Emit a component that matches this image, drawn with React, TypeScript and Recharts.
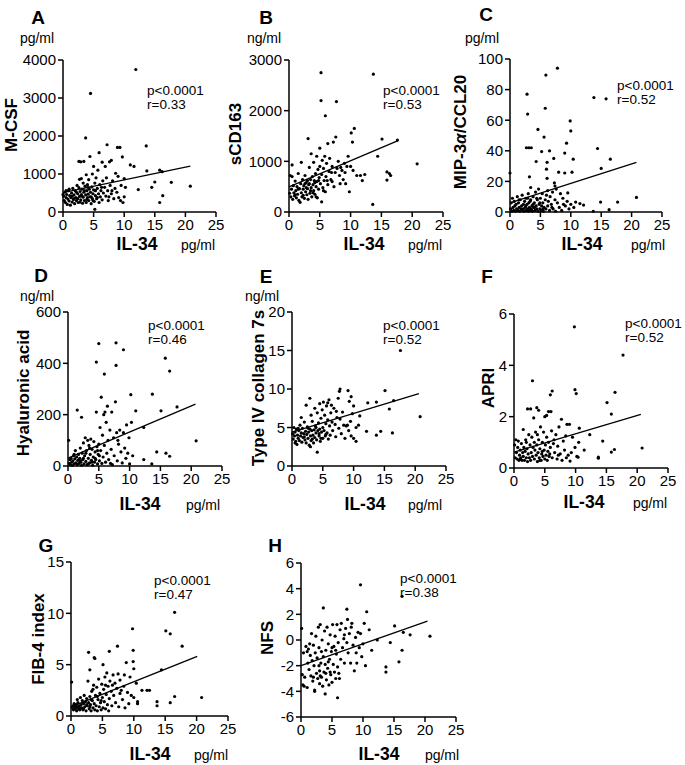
import React from "react";
import { ScatterChart, Scatter, XAxis, YAxis } from "recharts";

type Pt = [number, number];

const xTicks = [0, 5, 10, 15, 20, 25];

// A: M-CSF (pg/ml) vs IL-34
const mcsf: Pt[] = [
  [0.0,460],[0.1,420],[0.2,300],[0.3,520],[0.4,250],[0.5,380],[0.5,560],[0.6,460],[0.7,200],[0.8,340],[0.9,560],[1.0,290],[1.0,600],[1.1,430],[1.2,180],[1.3,380],[1.4,500],[1.5,260],[1.5,420],[1.6,620],[1.7,330],[1.8,450],[1.8,350],[1.9,220],[2.0,560],[2.1,380],[2.2,300],[2.2,520],[2.3,700],[2.4,480],[2.4,350],[2.5,250],[2.6,1330],[2.6,640],[2.7,410],[2.7,860],[2.8,540],[2.8,260],[2.9,1320],[2.9,320],[3.0,880],[3.0,460],[3.1,600],[3.1,420],[3.2,230],[3.3,760],[3.3,390],[3.4,1330],[3.4,520],[3.5,300],[3.5,560],[3.6,680],[3.7,1950],[3.7,450],[3.8,980],[3.8,250],[3.9,560],[3.9,330],[4.0,380],[4.0,720],[4.1,470],[4.1,650],[4.2,850],[4.2,300],[4.3,600],[4.4,1460],[4.4,400],[4.5,3120],[4.5,520],[4.6,220],[4.6,400],[4.7,660],[4.8,1000],[4.8,350],[4.9,480],[4.9,300],[5.0,1200],[5.0,580],[5.1,280],[5.2,70],[5.2,760],[5.3,430],[5.3,560],[5.4,900],[5.5,350],[5.6,620],[5.6,380],[5.7,1100],[5.8,480],[5.9,1560],[5.9,250],[6.0,720],[6.1,400],[6.2,560],[6.3,650],[6.4,1310],[6.4,320],[6.5,820],[6.6,500],[6.8,650],[6.9,1200],[7.0,420],[7.1,900],[7.2,1770],[7.3,560],[7.4,300],[7.5,400],[7.6,1320],[7.7,700],[7.9,1360],[7.9,480],[8.0,560],[8.1,820],[8.3,350],[8.5,620],[8.6,1020],[8.8,520],[8.9,1700],[9.0,940],[9.1,380],[9.3,1700],[9.4,300],[9.5,700],[9.7,1450],[9.8,250],[10.0,880],[10.0,400],[10.2,650],[11.0,1240],[11.6,1200],[11.9,3750],[12.3,590],[13.6,1740],[13.7,1080],[14.5,650],[15.0,790],[15.8,1100],[15.8,250],[16.2,1060],[16.3,430],[17.7,780],[20.8,680],
];
const mcsfFit: Pt[] = [[0, 510], [20.8, 1210]];

// B: sCD163 (ng/ml)
const scd163: Pt[] = [
  [0.1,370],[0.2,720],[0.3,300],[0.4,450],[0.5,930],[0.5,700],[0.6,250],[0.7,520],[0.8,380],[0.9,320],[1.0,610],[1.0,340],[1.1,420],[1.2,280],[1.3,500],[1.4,350],[1.5,760],[1.5,450],[1.6,230],[1.7,460],[1.8,190],[1.9,560],[2.0,980],[2.0,380],[2.1,300],[2.2,640],[2.3,450],[2.3,330],[2.4,520],[2.5,270],[2.6,720],[2.6,560],[2.7,400],[2.8,580],[2.8,480],[2.9,340],[3.0,620],[3.0,460],[3.1,1450],[3.1,250],[3.2,540],[3.3,880],[3.3,560],[3.4,370],[3.5,640],[3.5,420],[3.6,1150],[3.6,480],[3.7,300],[3.8,700],[3.9,540],[3.9,380],[4.0,420],[4.0,980],[4.1,620],[4.2,350],[4.2,580],[4.3,760],[4.4,500],[4.4,300],[4.5,1100],[4.5,600],[4.6,280],[4.7,840],[4.8,450],[4.8,620],[4.9,680],[5.0,1260],[5.0,900],[5.1,560],[5.2,2750],[5.2,2200],[5.3,200],[5.3,740],[5.4,1020],[5.5,480],[5.6,860],[5.6,420],[5.7,620],[5.8,1100],[5.9,1900],[5.9,400],[6.0,700],[6.1,960],[6.2,620],[6.3,1350],[6.3,540],[6.5,800],[6.6,1060],[6.8,640],[6.9,780],[7.0,900],[7.0,600],[7.2,1380],[7.3,500],[7.5,780],[7.6,1480],[7.7,2180],[7.8,860],[8.0,1000],[8.2,720],[8.3,560],[8.4,880],[8.6,820],[8.8,640],[9.0,960],[9.1,780],[9.2,560],[9.4,900],[9.6,1100],[9.8,400],[10.0,900],[10.1,1560],[10.3,1380],[10.4,820],[10.6,1650],[11.0,720],[11.6,720],[11.9,620],[12.3,740],[13.6,150],[13.7,2720],[14.4,1100],[15.1,1440],[15.9,790],[15.9,630],[16.3,760],[16.5,720],[17.6,1420],[20.8,950],
];
const scd163Fit: Pt[] = [[0, 494], [17.7, 1410]];

// C: MIP-3a/CCL20 (pg/ml)
const ccl20: Pt[] = [
  [0.0,25.5],[0.1,2],[0.2,6],[0.3,0.5],[0.4,9],[0.5,3],[0.6,1],[0.7,7],[0.8,4],[0.9,0.5],[1.0,5],[1.1,2],[1.2,10],[1.3,1],[1.4,6],[1.5,3],[1.5,8],[1.6,0.5],[1.7,8],[1.8,2],[1.9,4],[2.0,11],[2.1,1],[2.2,5],[2.2,2],[2.3,0.5],[2.4,7],[2.5,3],[2.6,9],[2.6,4],[2.7,42],[2.7,1],[2.8,77],[2.8,5],[2.9,64],[2.9,2],[2.9,9],[3.0,12],[3.0,0.5],[3.1,42],[3.1,6],[3.2,23],[3.2,3],[3.3,1],[3.3,7],[3.4,16],[3.4,8],[3.5,42],[3.5,2],[3.6,4],[3.6,1],[3.7,0.5],[3.8,10],[3.8,5],[3.9,3],[4.0,6],[4.0,3],[4.1,1],[4.2,13],[4.3,33],[4.3,4],[4.4,2],[4.4,9],[4.5,8],[4.6,54],[4.6,0.5],[4.7,15],[4.8,5],[4.9,2],[4.9,6],[5.0,9],[5.1,1],[5.2,39.5],[5.2,4],[5.3,12],[5.4,6],[5.4,2],[5.5,0.5],[5.6,49],[5.6,3],[5.8,67.8],[5.8,8],[5.9,89.5],[5.9,2],[6.0,28],[6.0,11],[6.1,22],[6.1,32.5],[6.2,4],[6.2,14],[6.3,7],[6.5,40],[6.5,1],[6.6,10],[6.8,5],[6.9,3],[7.0,13],[7.1,2],[7.2,35],[7.3,19],[7.4,8],[7.4,17],[7.5,0.5],[7.6,15],[7.8,94],[7.8,6],[8.0,26],[8.1,3],[8.3,12],[8.5,1],[8.7,9],[8.8,5],[9.0,38.5],[9.0,25.5],[9.1,4],[9.3,45],[9.4,7],[9.5,12.5],[9.7,2],[9.9,59.5],[10.0,53],[10.0,5],[10.2,26],[10.4,34.5],[10.5,3],[10.8,6.5],[11.5,5.5],[12.1,4.5],[13.7,0.5],[13.8,74.8],[14.4,41.5],[14.9,6.5],[15.0,28.5],[15.8,74],[16.3,1.5],[16.5,34.5],[17.7,6.5],[20.8,9.5],
];
const ccl20Fit: Pt[] = [[0, 5.9], [20.8, 32.4]];

// D: Hyaluronic acid (ng/ml)
const hyaluronic: Pt[] = [
  [0.1,100],[0.2,10],[0.3,25],[0.4,5],[0.5,30],[0.6,15],[0.7,2],[0.8,20],[0.9,40],[1.0,8],[1.0,45],[1.1,28],[1.2,60],[1.3,12],[1.4,35],[1.5,218],[1.5,5],[1.6,22],[1.7,45],[1.8,10],[1.9,30],[2.0,70],[2.0,20],[2.1,15],[2.2,190],[2.2,3],[2.3,50],[2.4,25],[2.5,90],[2.5,30],[2.6,8],[2.7,40],[2.8,110],[2.9,18],[2.9,50],[3.0,60],[3.1,5],[3.2,100],[3.3,30],[3.3,8],[3.4,80],[3.5,12],[3.5,70],[3.6,45],[3.7,105],[3.8,22],[3.9,65],[3.9,15],[4.0,3],[4.1,35],[4.2,95],[4.3,15],[4.4,55],[4.4,30],[4.5,25],[4.6,405],[4.6,210],[4.7,75],[4.8,8],[4.8,60],[4.9,45],[5.0,477],[5.0,85],[5.1,20],[5.1,40],[5.2,150],[5.3,60],[5.4,268],[5.5,10],[5.6,120],[5.7,35],[5.8,200],[5.9,358],[5.9,80],[6.0,210],[6.1,15],[6.2,170],[6.3,50],[6.4,233],[6.5,100],[6.6,25],[6.8,140],[6.9,10],[7.0,65],[7.1,210],[7.2,5],[7.4,110],[7.5,40],[7.7,250],[7.8,480],[7.8,392],[7.9,130],[8.0,20],[8.1,100],[8.2,85],[8.4,140],[8.6,55],[8.8,12],[9.0,453],[9.0,130],[9.2,70],[9.4,30],[9.5,160],[9.7,50],[9.9,110],[10.0,8],[10.2,278],[10.3,170],[10.5,40],[11.0,215],[12.3,150],[12.3,25],[13.6,8],[13.7,280],[14.4,55],[15.1,215],[15.8,420],[15.9,50],[16.5,370],[16.5,38],[17.7,230],[20.8,98],
];
const hyaluronicFit: Pt[] = [[0, 31], [20.7, 241]];

// E: Type IV collagen 7s (ng/ml)
const collagen: Pt[] = [
  [0.1,4.2],[0.2,3.5],[0.3,5.0],[0.4,3.9],[0.5,4.4],[0.5,3.0],[0.6,3.2],[0.7,4.8],[0.8,2.8],[0.9,4.0],[1.0,3.6],[1.0,4.9],[1.1,4.6],[1.2,3.3],[1.3,5.3],[1.4,3.9],[1.5,6.3],[1.5,4.3],[1.6,3.1],[1.7,4.9],[1.8,3.7],[1.9,4.2],[2.0,5.7],[2.0,3.8],[2.1,3.4],[2.2,4.5],[2.3,7.9],[2.3,3.0],[2.4,4.1],[2.5,5.1],[2.6,3.6],[2.6,4.9],[2.7,4.4],[2.8,2.7],[2.9,8.8],[2.9,4.8],[3.0,3.9],[3.0,2.5],[3.1,6.6],[3.1,3.3],[3.2,4.6],[3.3,5.8],[3.3,3.5],[3.4,4.0],[3.5,3.0],[3.6,4.7],[3.7,7.5],[3.7,3.7],[3.8,5.2],[3.9,4.3],[3.9,5.0],[4.0,3.4],[4.1,1.8],[4.1,6.9],[4.2,4.6],[4.3,5.6],[4.4,3.9],[4.4,4.2],[4.5,8.1],[4.5,4.8],[4.6,3.2],[4.7,6.2],[4.7,3.6],[4.8,4.4],[4.9,7.3],[5.0,5.0],[5.0,3.6],[5.1,8.3],[5.2,4.6],[5.3,6.6],[5.4,3.9],[5.5,5.5],[5.5,4.1],[5.6,7.8],[5.7,4.3],[5.8,6.0],[5.8,8.2],[5.9,3.5],[6.0,8.6],[6.1,5.2],[6.2,4.0],[6.3,6.9],[6.4,7.9],[6.5,5.7],[6.6,4.6],[6.8,7.5],[7.0,5.4],[7.1,3.8],[7.2,7.1],[7.3,6.3],[7.5,8.8],[7.6,4.9],[7.7,9.7],[7.8,10.0],[7.8,6.1],[8.0,4.2],[8.2,7.0],[8.4,5.3],[8.6,3.6],[8.8,5.2],[9.0,5.3],[9.1,9.8],[9.2,4.6],[9.3,8.4],[9.5,5.8],[9.6,9.0],[9.6,3.9],[9.8,6.8],[10.0,3.6],[10.0,7.8],[10.4,3.2],[10.4,5.0],[10.8,5.3],[11.0,6.5],[12.1,4.5],[12.3,8.2],[13.7,8.3],[13.7,4.0],[14.4,4.5],[15.1,9.8],[15.8,7.4],[16.3,4.3],[16.5,8.5],[17.6,15],[20.8,6.4],
];
const collagenFit: Pt[] = [[0, 4.4], [20.6, 9.4]];

// F: APRI
const apri: Pt[] = [
  [0.1,0.9],[0.2,0.4],[0.3,1.1],[0.4,0.6],[0.5,0.35],[0.6,0.8],[0.7,1.05],[0.8,0.3],[0.9,0.5],[1.0,0.7],[1.0,0.35],[1.1,0.4],[1.2,0.95],[1.3,0.3],[1.4,0.6],[1.5,1.5],[1.5,0.45],[1.6,0.8],[1.7,0.3],[1.8,0.65],[1.9,1.1],[2.0,0.4],[2.0,1.0],[2.1,0.75],[2.2,2.3],[2.2,0.25],[2.3,0.55],[2.4,1.3],[2.5,0.4],[2.6,0.9],[2.7,2.3],[2.7,0.3],[2.8,0.6],[2.9,1.2],[3.0,3.4],[3.0,0.45],[3.1,0.8],[3.2,1.95],[3.3,0.35],[3.3,1.0],[3.4,0.7],[3.5,1.4],[3.6,0.5],[3.7,2.35],[3.7,0.9],[3.8,0.25],[3.8,1.3],[3.9,0.6],[4.0,2.25],[4.0,1.1],[4.1,0.4],[4.2,0.75],[4.2,0.3],[4.3,1.6],[4.4,0.3],[4.5,0.55],[4.6,1.0],[4.6,0.65],[4.7,0.45],[4.8,1.4],[4.9,0.7],[5.0,2.0],[5.0,0.35],[5.1,0.9],[5.2,0.5],[5.3,2.05],[5.3,1.2],[5.4,0.3],[5.5,0.65],[5.6,2.2],[5.6,1.0],[5.7,0.45],[5.8,0.55],[5.9,2.85],[5.9,0.8],[6.0,2.2],[6.1,1.45],[6.2,3.0],[6.2,0.4],[6.4,0.95],[6.5,1.1],[6.6,0.6],[6.8,1.3],[7.0,0.35],[7.1,0.85],[7.2,0.5],[7.3,1.6],[7.5,0.55],[7.7,1.9],[7.8,0.3],[8.0,1.05],[8.2,0.7],[8.4,1.25],[8.5,0.4],[8.6,1.7],[8.8,0.5],[9.0,1.7],[9.1,0.27],[9.3,0.6],[9.5,1.2],[9.8,5.5],[9.9,3.05],[9.9,0.8],[10.1,2.9],[10.2,0.45],[10.4,0.42],[10.5,1.0],[10.6,1.55],[11.4,0.7],[12.3,1.3],[13.7,0.42],[13.7,0.38],[14.4,1.05],[15.1,2.55],[15.8,2.1],[15.8,0.62],[16.3,0.72],[16.4,2.95],[17.7,4.4],[20.8,0.78],
];
const apriFit: Pt[] = [[0, 0.62], [20.6, 2.09]];

// G: FIB-4 index
const fib4: Pt[] = [
  [0.1,3.3],[0.2,0.8],[0.3,1.0],[0.4,0.6],[0.5,1.2],[0.6,0.9],[0.7,0.7],[0.8,1.1],[0.9,0.5],[1.0,0.9],[1.0,1.6],[1.1,1.3],[1.2,0.7],[1.3,1.0],[1.4,0.6],[1.5,1.8],[1.5,0.8],[1.6,1.1],[1.7,0.8],[1.8,1.5],[1.9,0.6],[2.0,1.2],[2.0,0.7],[2.1,2.0],[2.2,0.9],[2.3,1.4],[2.4,0.5],[2.5,1.7],[2.5,1.1],[2.6,1.0],[2.7,3.4],[2.8,6.2],[2.8,1.3],[2.9,0.7],[3.0,4.5],[3.0,1.9],[3.0,0.9],[3.1,1.1],[3.2,0.5],[3.2,1.6],[3.3,2.4],[3.4,1.5],[3.5,0.8],[3.5,2.6],[3.6,3.0],[3.7,5.7],[3.7,1.2],[3.8,5.6],[3.8,0.6],[3.9,2.0],[4.0,1.0],[4.1,2.8],[4.2,0.5],[4.2,1.9],[4.3,1.6],[4.4,3.6],[4.5,0.9],[4.6,2.2],[4.7,1.3],[4.8,0.6],[4.8,1.5],[4.9,3.1],[5.0,1.8],[5.1,5.0],[5.1,0.8],[5.2,2.6],[5.3,1.4],[5.4,3.8],[5.5,0.7],[5.5,3.0],[5.6,2.1],[5.7,4.2],[5.8,1.1],[5.9,2.9],[6.0,0.5],[6.1,6.3],[6.1,1.7],[6.2,3.4],[6.4,2.4],[6.5,1.0],[6.6,3.0],[6.7,4.0],[6.8,2.0],[7.0,3.2],[7.1,1.3],[7.3,2.7],[7.4,6.8],[7.5,4.1],[7.6,0.9],[7.8,3.5],[7.8,2.2],[8.0,2.5],[8.2,1.6],[8.4,2.9],[8.5,4.0],[8.6,0.8],[8.8,5.2],[9.0,2.3],[9.2,1.2],[9.4,3.8],[9.6,2.0],[9.8,8.5],[9.9,6.4],[9.9,5.3],[10.0,4.6],[10.0,1.8],[10.4,3.2],[10.6,1.4],[10.6,1.2],[11.3,2.5],[12.1,2.5],[12.5,2.5],[13.7,1.4],[13.7,1.0],[14.4,4.5],[15.1,8.3],[15.8,8.0],[15.8,1.3],[16.5,10.1],[16.5,1.9],[17.7,6.8],[20.8,1.8],
];
const fib4Fit: Pt[] = [[0, 0.88], [20.1, 5.8]];

// H: NFS
const nfs: Pt[] = [
  [0.1,0.9],[0.2,-2.7],[0.3,-3.5],[0.4,-1.0],[0.5,-3.6],[0.6,-2.9],[0.8,-0.5],[1.0,-3.7],[1.0,-0.9],[1.1,-1.8],[1.2,-0.7],[1.3,-2.3],[1.4,-0.3],[1.5,-1.2],[1.6,-2.8],[1.7,0.5],[1.8,-1.6],[1.9,-3.2],[2.0,-0.4],[2.0,-2.9],[2.1,-2.0],[2.2,-4.0],[2.2,-3.9],[2.3,-1.0],[2.4,0.3],[2.5,-2.6],[2.6,-1.4],[2.7,-3.0],[2.8,1.0],[2.9,-0.6],[2.9,-2.0],[3.0,-2.4],[3.0,-3.4],[3.1,1.2],[3.1,-2.8],[3.2,-1.8],[3.3,-2.9],[3.3,-0.9],[3.4,0.0],[3.5,-3.6],[3.6,2.5],[3.6,-1.3],[3.7,-2.5],[3.8,0.7],[3.9,-4.2],[3.9,-1.9],[4.0,-0.8],[4.0,-2.6],[4.1,-3.1],[4.2,1.0],[4.3,-2.2],[4.4,-0.3],[4.4,-1.7],[4.5,-3.5],[4.6,-1.5],[4.7,0.4],[4.7,-2.5],[4.8,-2.7],[4.9,-0.9],[5.0,-3.3],[5.0,-0.6],[5.1,1.2],[5.2,-1.9],[5.3,-0.5],[5.4,-2.5],[5.5,0.3],[5.6,-3.0],[5.6,-0.8],[5.7,-1.1],[5.8,1.2],[5.9,-4.5],[5.9,-2.1],[6.0,-0.2],[6.1,-2.6],[6.2,-3.0],[6.3,0.8],[6.4,-1.5],[6.5,1.3],[6.7,-0.6],[6.9,0.1],[7.0,-1.8],[7.0,0.4],[7.2,0.9],[7.4,2.4],[7.4,-0.2],[7.5,1.6],[7.6,-1.0],[7.8,0.5],[8.0,-1.8],[8.1,1.0],[8.2,1.3],[8.4,-0.4],[8.6,-2.4],[8.8,0.2],[8.9,-1.0],[9.0,-1.8],[9.2,0.6],[9.4,-0.6],[9.6,4.3],[9.6,0.5],[9.8,-1.3],[10.0,-0.3],[10.2,1.3],[10.4,-2.0],[10.6,2.2],[11.0,0.8],[11.4,-0.8],[12.3,0.0],[13.7,-2.1],[13.7,-2.5],[14.4,-0.2],[15.1,1.1],[15.8,-1.7],[16.3,3.4],[16.3,-0.8],[16.5,0.6],[17.6,0.4],[20.8,0.3],
];
const nfsFit: Pt[] = [[0, -1.99], [20.4, 1.47]];

const FONT = '"Liberation Sans", Arial, Helvetica, sans-serif';
const YW = 60;
const TM = 10;
const RM = 16;
const XH = 30;

const toObj = (pts: Pt[]) => pts.map(([x, y]) => ({ x, y }));

const Dot = (props: any) => <circle cx={props.cx} cy={props.cy} r={1.6} fill="#000" />;
const NoDot = () => <g />;

function Txt({ x, y, size, bold, rotate, start, children }: any) {
  const tx = start ? "0" : "-50%";
  return (
    <div
      style={{
        position: "absolute",
        left: x,
        top: y,
        fontSize: size,
        fontWeight: bold ? 700 : 400,
        whiteSpace: "nowrap",
        lineHeight: 1,
        transform: `translate(${tx},-50%)${rotate ? " rotate(-90deg)" : ""}`,
      }}
    >
      {children}
    </div>
  );
}

function Panel(p: any) {
  const w = p.w + YW + RM;
  const h = p.h + TM + XH;
  return (
    <>
      <div style={{ position: "absolute", left: p.x0 - YW, top: p.y0 - TM }}>
        <ScatterChart width={w} height={h} margin={{ top: TM, right: RM, bottom: 0, left: 0 }}>
          <XAxis
            type="number"
            dataKey="x"
            domain={[0, 25]}
            ticks={xTicks}
            interval={0}
            height={XH}
            axisLine={{ stroke: "#000", strokeWidth: 1.5 }}
            tickLine={{ stroke: "#000", strokeWidth: 1.5 }}
            tickSize={5}
            tick={{ fill: "#000", fontSize: 15 }}
          />
          <YAxis
            type="number"
            dataKey="y"
            domain={p.domain}
            ticks={p.ticks}
            interval={0}
            width={YW}
            axisLine={{ stroke: "#000", strokeWidth: 1.5 }}
            tickLine={{ stroke: "#000", strokeWidth: 1.5 }}
            tickSize={5}
            tick={{ fill: "#000", fontSize: 15 }}
          />
          <Scatter data={toObj(p.pts)} shape={Dot} isAnimationActive={false} />
          <Scatter
            data={toObj(p.fit)}
            shape={NoDot}
            line={{ stroke: "#000", strokeWidth: 1.3 }}
            isAnimationActive={false}
          />
        </ScatterChart>
      </div>
      <Txt x={p.letter[1]} y={p.letter[2]} size={19} bold>{p.letter[0]}</Txt>
      {p.unit && <Txt x={p.unit[1]} y={p.unit[2]} size={14}>{p.unit[0]}</Txt>}
      <Txt x={p.ylab[0]} y={p.ylab[1]} size={17} bold rotate>{p.ylab[2]}</Txt>
      <Txt x={p.xlab[0]} y={p.xlab[2]} size={17.5} bold>IL-34</Txt>
      <Txt x={p.xlab[1]} y={p.xlab[2]} size={14}>pg/ml</Txt>
      <Txt x={p.stat[0]} y={p.stat[1]} size={13.5} start>p&lt;0.0001</Txt>
      <Txt x={p.stat[0]} y={p.stat[1] + 14} size={13.5} start>{p.stat[2]}</Txt>
    </>
  );
}

export default function App() {
  return (
    <div
      style={{
        position: "absolute",
        left: 0,
        top: 0,
        width: 685,
        height: 765,
        background: "#fff",
        fontFamily: FONT,
        color: "#000",
        overflow: "hidden",
      }}
    >
      <Panel x0={63} y0={60} w={153} h={152} domain={[0, 4000]} ticks={[0, 1000, 2000, 3000, 4000]}
        pts={mcsf} fit={mcsfFit} letter={["A", 38, 17]} unit={["pg/ml", 37, 38]} ylab={[11, 125, "M-CSF"]}
        xlab={[137, 198, 245]} stat={[147, 91, "r=0.33"]} />
      <Panel x0={289} y0={60} w={154} h={152} domain={[0, 3000]} ticks={[0, 1000, 2000, 3000]}
        pts={scd163} fit={scd163Fit} letter={["B", 266, 17]} unit={["ng/ml", 264, 38]} ylab={[235, 134, "sCD163"]}
        xlab={[364, 425, 245]} stat={[383, 91, "r=0.53"]} />
      <Panel x0={510} y0={59} w={152} h={153} domain={[0, 100]} ticks={[0, 20, 40, 60, 80, 100]}
        pts={ccl20} fit={ccl20Fit} letter={["C", 486, 14]} unit={["pg/ml", 482, 38]}
        ylab={[460, 132, <>MIP-3<span style={{ fontStyle: "italic" }}>α</span>/CCL20</>]}
        xlab={[582, 648, 245]} stat={[617, 86, "r=0.52"]} />
      <Panel x0={68} y0={312} w={154} h={154} domain={[0, 600]} ticks={[0, 200, 400, 600]}
        pts={hyaluronic} fit={hyaluronicFit} letter={["D", 41, 275]} unit={["ng/ml", 37, 296]}
        ylab={[23, 393, "Hyaluronic acid"]} xlab={[140, 203, 505]} stat={[148, 326, "r=0.46"]} />
      <Panel x0={292} y0={312} w={154} h={154} domain={[0, 20]} ticks={[0, 5, 10, 15, 20]}
        pts={collagen} fit={collagenFit} letter={["E", 266, 276]} unit={["ng/ml", 262, 296]}
        ylab={[258, 388, "Type IV collagen 7s"]} xlab={[365, 425, 505]} stat={[383, 326, "r=0.52"]} />
      <Panel x0={514} y0={314} w={154} h={154} domain={[0, 6]} ticks={[0, 2, 4, 6]}
        pts={apri} fit={apriFit} letter={["F", 487, 276]} ylab={[488, 388, "APRI"]}
        xlab={[584, 650, 503]} stat={[625, 324, "r=0.52"]} />
      <Panel x0={71} y0={562} w={157} h={154} domain={[0, 15]} ticks={[0, 5, 10, 15]}
        pts={fib4} fit={fib4Fit} letter={["G", 46, 545]} ylab={[38, 639, "FIB-4 index"]}
        xlab={[150, 211, 755]} stat={[154, 581, "r=0.47"]} />
      <Panel x0={301} y0={563} w={155} h={154} domain={[-6, 6]} ticks={[-6, -4, -2, 0, 2, 4, 6]}
        pts={nfs} fit={nfsFit} letter={["H", 275, 545]} ylab={[267, 638, "NFS"]}
        xlab={[379, 442, 755]} stat={[400, 579, "r=0.38"]} />
    </div>
  );
}
